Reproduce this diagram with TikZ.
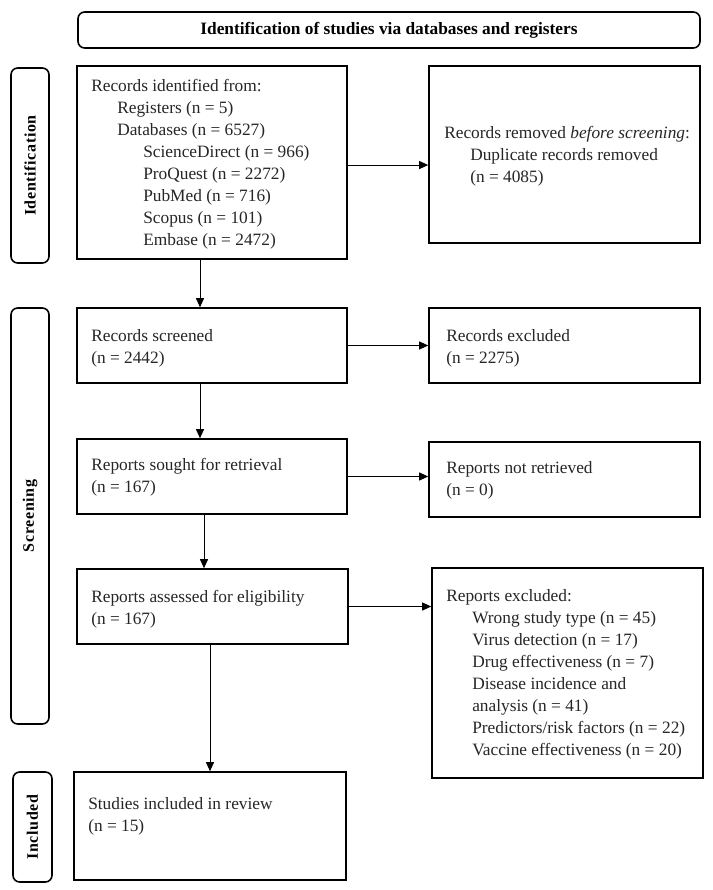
\documentclass[tikz,border=0pt]{standalone}
\usepackage{fontspec}
\setmainfont{Liberation Serif}
\usetikzlibrary{arrows.meta}
\newcommand{\ia}{\hspace*{19.5pt}}
\newcommand{\ib}{\hspace*{39pt}}
\begin{document}
\begin{tikzpicture}[x=0.75pt,y=-0.75pt,
  pbox/.style={draw=black, line width=1.2pt, inner sep=0pt},
  side/.style={draw=black, line width=1.2pt, rounded corners=5pt, inner sep=0pt, rotate=90,
    font=\bfseries\fontsize{12}{14}\selectfont\addfontfeatures{LetterSpace=4}},
  txt/.style={anchor=west, align=left, inner sep=0pt, text=black!85,
    font=\fontsize{13}{16.5}\selectfont},
  arr/.style={line width=0.7pt, -{Triangle[length=6.75pt,width=6pt]}}]
\path[fill=white, use as bounding box] (0,0) rectangle (713,890);

% header
\node[pbox, rounded corners=5pt, minimum width=466.5pt, minimum height=27pt,
  font=\bfseries\fontsize{13}{14}\selectfont] (hdr) at (389,30)
  {Identification of studies via databases and registers};

% side labels
\node[side, minimum width=146.25pt, minimum height=28.5pt] (lid) at (30,165.5) {Identification};
\node[side, minimum width=312pt, minimum height=28.5pt] (lsc) at (30,516) {Screening};
\node[side, minimum width=82.5pt, minimum height=29.25pt] (lin) at (32.5,827) {Included};

% boxes
\node[pbox, minimum width=202.5pt, minimum height=144.75pt] (A) at (212,162.5) {};
\node[pbox, minimum width=203.25pt, minimum height=132.75pt] (B) at (564.5,154.5) {};
\node[pbox, minimum width=202.5pt, minimum height=56.25pt] (C) at (212,345.5) {};
\node[pbox, minimum width=203.25pt, minimum height=56.25pt] (D) at (564.5,345.5) {};
\node[pbox, minimum width=202.5pt, minimum height=56.25pt] (E) at (212,476.5) {};
\node[pbox, minimum width=203.25pt, minimum height=56.25pt] (F) at (564.5,479.5) {};
\node[pbox, minimum width=203.25pt, minimum height=56.25pt] (G) at (212.5,606.5) {};
\node[pbox, minimum width=203.25pt, minimum height=157.5pt] (H) at (567.5,673) {};
\node[pbox, minimum width=204pt, minimum height=81pt] (I) at (210,826) {};

% texts
\node[txt] (tA) at (91,164.5) {Records identified from:\\
  \ia Registers (n = 5)\\
  \ia Databases (n = 6527)\\
  \ib ScienceDirect (n = 966)\\
  \ib ProQuest (n = 2272)\\
  \ib PubMed (n = 716)\\
  \ib Scopus (n = 101)\\
  \ib Embase (n = 2472)};
\node[txt] (tB) at (444,156) {Records removed \textit{before screening}:\\
  \ia Duplicate records removed\\
  \ia (n = 4085)};
\node[txt] (tC) at (91,348) {Records screened\\(n = 2442)};
\node[txt] (tD) at (446,348) {Records excluded\\(n = 2275)};
\node[txt] (tE) at (91,477) {Reports sought for retrieval\\(n = 167)};
\node[txt] (tF) at (446,480.5) {Reports not retrieved\\(n = 0)};
\node[txt] (tG) at (91,609) {Reports assessed for eligibility\\(n = 167)};
\node[txt] (tH) at (446,674) {Reports excluded:\\
  \ia Wrong study type (n = 45)\\
  \ia Virus detection (n = 17)\\
  \ia Drug effectiveness (n = 7)\\
  \ia Disease incidence and\\
  \ia analysis (n = 41)\\
  \ia Predictors/risk factors (n = 22)\\
  \ia Vaccine effectiveness (n = 20)};
\node[txt] (tI) at (88,816) {Studies included in review\\(n = 15)};

% connectors
\coordinate (xa) at (200,0);
\coordinate (xb) at (204,0);
\coordinate (xc) at (210,0);
\draw[arr] ([yshift=-1.9pt]A.east) -- ([yshift=-1.9pt]A.east -| B.west);
\draw[arr] (A.south -| xa) -- (C.north -| xa);
\draw[arr] (C.east) -- (C.east -| D.west);
\draw[arr] (C.south -| xa) -- (E.north -| xa);
\draw[arr] (E.east) -- (E.east -| F.west);
\draw[arr] (E.south -| xb) -- (G.north -| xb);
\draw[arr] (G.east) -- (G.east -| H.west);
\draw[arr] (G.south -| xc) -- (I.north -| xc);
\end{tikzpicture}
\end{document}
